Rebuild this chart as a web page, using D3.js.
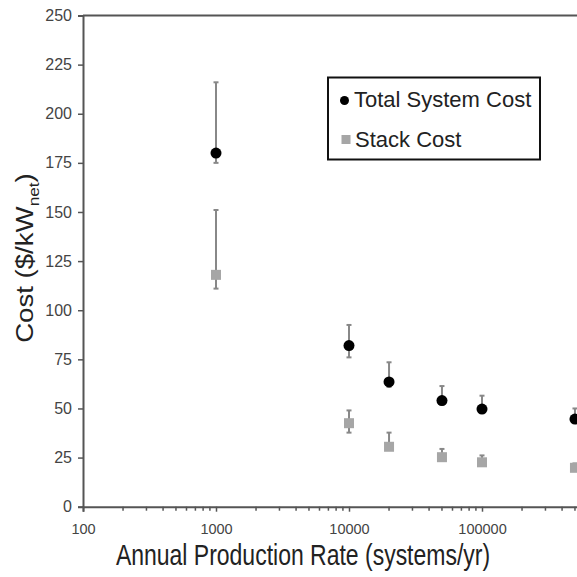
<!DOCTYPE html>
<html>
<head>
<meta charset="utf-8">
<script src="https://cdn.jsdelivr.net/npm/d3@7"></script>
<style>
  body { margin: 0; background: #fff; }
  svg { display: block; font-family: "Liberation Sans", Arial, sans-serif; }
</style>
</head>
<body>
<svg id="chart" width="577" height="577"></svg>
<script>
// production rates (systems/yr)
const rates = [1000, 10000, 20000, 50000, 100000, 500000];
// total system cost and its error bars
const totalCost = [180, 82, 63.5, 54, 49.7, 44.6];
const totalHigh = [216, 92.5, 73.5, 61.4, 56.5, 50];
const totalLow = [175, 76, 61, 52, 48, 43];
// stack cost and its error bars
const stackCost = [118, 42.5, 30.5, 25.2, 22.6, 19.8];
const stackHigh = [151, 49, 37.7, 29.4, 26.1, 22];
const stackLow = [111, 37.7, 29, 24, 21.5, 19];
const yTicks = [0, 25, 50, 75, 100, 125, 150, 175, 200, 225, 250];
const xTicks = [100, 1000, 10000, 100000];

const margin = { top: 15.5, left: 83 };
const svg = d3.select("#chart");

const x = d3.scaleLog()
  .domain([100, 1000000])
  .range([margin.left, margin.left + 4 * 133]);

const y = d3.scaleLinear()
  .domain([0, 250])
  .range([506.7, margin.top]);

const axisColor = "#555";
const textColor = "#444";

// top frame line
svg.append("line")
  .attr("x1", margin.left).attr("x2", 577)
  .attr("y1", y(250)).attr("y2", y(250))
  .attr("stroke", axisColor).attr("stroke-width", 2);

// y axis
const yAxis = svg.append("g")
  .attr("transform", `translate(${margin.left},0)`)
  .call(d3.axisLeft(y).tickValues(yTicks).tickSize(5).tickPadding(6));
yAxis.select(".domain").attr("stroke", axisColor).attr("stroke-width", 2);
yAxis.selectAll(".tick line").attr("stroke", axisColor).attr("stroke-width", 1.5);
yAxis.selectAll(".tick text").attr("fill", textColor).style("font-size", "16px");

// x axis, major labels
const xAxis = svg.append("g")
  .attr("transform", `translate(0,${y(0)})`)
  .call(d3.axisBottom(x).tickValues(xTicks).tickFormat(d3.format("d")).tickSize(5).tickPadding(12));
xAxis.select(".domain").attr("stroke", axisColor).attr("stroke-width", 2);
xAxis.selectAll(".tick line").attr("stroke", axisColor).attr("stroke-width", 1.5);
xAxis.selectAll(".tick text").attr("fill", textColor).style("font-size", "14.5px");

// minor ticks
const minor = [];
for (let p = 100; p < 1000000; p *= 10) {
  for (let k = 2; k <= 9; k++) minor.push(p * k);
}
svg.append("g").selectAll("line")
  .data(minor)
  .join("line")
  .attr("x1", d => x(d)).attr("x2", d => x(d))
  .attr("y1", y(0)).attr("y2", y(0) + 4)
  .attr("stroke", axisColor).attr("stroke-width", 1.5);

// axis titles (the original is a bit stretched vertically)
svg.append("text")
  .attr("transform", "translate(303,565) scale(1,1.27)")
  .attr("text-anchor", "middle")
  .attr("fill", "#222")
  .style("font-size", "23px")
  .text("Annual Production Rate (systems/yr)");

const yTitle = svg.append("text")
  .attr("transform", "translate(33,258) rotate(-90) scale(1.15,1)")
  .attr("text-anchor", "middle")
  .attr("fill", "#222")
  .style("font-size", "24px");
yTitle.append("tspan").text("Cost ($/kW");
yTitle.append("tspan").attr("dy", 6).style("font-size", "15px").text("net");
yTitle.append("tspan").attr("dy", -6).text(")");

// error bars
function errorBars(highs, lows) {
  const g = svg.append("g").attr("stroke", "#888");
  rates.forEach((r, i) => {
    g.append("line")
      .attr("x1", x(r)).attr("x2", x(r))
      .attr("y1", y(highs[i])).attr("y2", y(lows[i]))
      .attr("stroke-width", 2);
    [highs[i], lows[i]].forEach(v => {
      g.append("line")
        .attr("x1", x(r) - 2.5).attr("x2", x(r) + 2.5)
        .attr("y1", y(v)).attr("y2", y(v))
        .attr("stroke-width", 2);
    });
  });
}
errorBars(totalHigh, totalLow);
errorBars(stackHigh, stackLow);

// stack cost squares
svg.append("g").selectAll("rect")
  .data(rates)
  .join("rect")
  .attr("x", d => x(d) - 5)
  .attr("y", (d, i) => y(stackCost[i]) - 5)
  .attr("width", 10).attr("height", 10)
  .attr("fill", "#a6a6a6");

// total cost circles
svg.append("g").selectAll("circle")
  .data(rates)
  .join("circle")
  .attr("cx", d => x(d))
  .attr("cy", (d, i) => y(totalCost[i]))
  .attr("r", 5.5)
  .attr("fill", "#000");

// legend
const legend = svg.append("g");
legend.append("rect")
  .attr("x", 328).attr("y", 77.5)
  .attr("width", 212).attr("height", 82)
  .attr("fill", "#fff").attr("stroke", "#111").attr("stroke-width", 2);
legend.append("circle")
  .attr("cx", 344.5).attr("cy", 100.5).attr("r", 4.5).attr("fill", "#000");
legend.append("rect")
  .attr("x", 341.5).attr("y", 135).attr("width", 9).attr("height", 9).attr("fill", "#a6a6a6");
legend.append("text")
  .attr("x", 354).attr("y", 107).attr("fill", "#222").style("font-size", "22px")
  .text("Total System Cost");
legend.append("text")
  .attr("x", 355).attr("y", 147).attr("fill", "#222").style("font-size", "22px")
  .text("Stack Cost");
</script>
</body>
</html>
